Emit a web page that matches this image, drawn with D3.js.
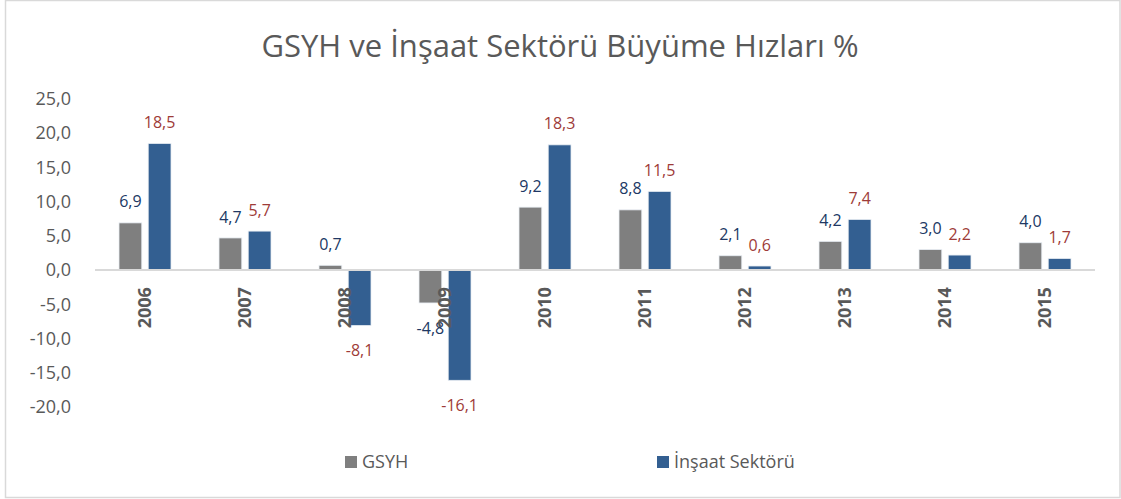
<!DOCTYPE html>
<html>
<head>
<meta charset="utf-8">
<script src="https://cdn.jsdelivr.net/npm/d3@7"></script>
<style>
  body { margin: 0; background: #fff; }
  text { font-family: "Open Sans", sans-serif; }
</style>
</head>
<body>
<div id="chart"></div>
<script>
// data
const years = ["2006", "2007", "2008", "2009", "2010", "2011", "2012", "2013", "2014", "2015"];
const gsyh = [6.9, 4.7, 0.7, -4.8, 9.2, 8.8, 2.1, 4.2, 3.0, 4.0];
const insaat = [18.5, 5.7, -8.1, -16.1, 18.3, 11.5, 0.6, 7.4, 2.2, 1.7];
const seriesNames = ["GSYH", "İnşaat Sektörü"];
const yTicks = [-20, -15, -10, -5, 0, 5, 10, 15, 20, 25];

const width = 1121, height = 499;
const margin = { top: 99, bottom: 92, left: 95, right: 26 };
const colors = ["#7f7f7f", "#335f91"];
const labelColors = ["#203864", "#9e3b38"];

const rows = years.map((y, i) => ({ year: y, values: [gsyh[i], insaat[i]] }));
const fmt = v => d3.format(".1f")(v).replace(".", ",").replace("−", "-");

const svg = d3.select("#chart").append("svg")
  .attr("width", width)
  .attr("height", height);

// border
svg.append("rect")
  .attr("x", 5.5).attr("y", 0.5)
  .attr("width", width - 6.5).attr("height", height - 2)
  .attr("fill", "#fff")
  .attr("stroke", "#d9d9d9")
  .attr("stroke-width", 1.5);

const x0 = d3.scaleBand()
  .domain(years)
  .range([margin.left, width - margin.right]);

const x1 = d3.scaleBand()
  .domain([0, 1])
  .range([24, 76])
  .paddingInner(0.22);

const y = d3.scaleLinear()
  .domain([-20, 25])
  .range([407, 99]);

// title
svg.append("text")
  .attr("x", 560)
  .attr("y", 57)
  .attr("text-anchor", "middle")
  .attr("font-size", "31px")
  .attr("fill", "#595959")
  .text("GSYH ve İnşaat Sektörü Büyüme Hızları %");

// y axis
svg.append("g")
  .attr("transform", `translate(${margin.left - 21},0)`)
  .call(d3.axisLeft(y).tickValues(yTicks).tickSize(0).tickFormat(fmt))
  .call(g => g.select(".domain").remove())
  .call(g => g.selectAll("text")
    .attr("font-size", "18px")
    .attr("fill", "#595959")
    .style("font-family", "'Open Sans', sans-serif"));

// bars
const groups = svg.selectAll("g.grp")
  .data(rows)
  .join("g")
  .attr("class", "grp")
  .attr("transform", d => `translate(${x0(d.year)},0)`);

groups.selectAll("rect")
  .data(d => d.values.map((v, k) => ({ v, k })))
  .join("rect")
  .attr("x", d => x1(d.k))
  .attr("width", x1.bandwidth())
  .attr("y", d => y(Math.max(0, d.v)))
  .attr("height", d => Math.abs(y(d.v) - y(0)))
  .attr("fill", d => colors[d.k])
  .attr("stroke", "#e8edf3")
  .attr("stroke-width", 0.8);

// zero line
svg.append("line")
  .attr("x1", margin.left).attr("x2", width - margin.right)
  .attr("y1", y(0)).attr("y2", y(0))
  .attr("stroke", "#d9d9d9")
  .attr("stroke-width", 2);

// value labels
groups.selectAll("text.val")
  .data(d => d.values.map((v, k) => ({ v, k })))
  .join("text")
  .attr("class", "val")
  .attr("x", d => x1(d.k) + x1.bandwidth() / 2)
  .attr("y", d => d.v >= 0 ? y(d.v) - 21 : y(d.v) + 25)
  .attr("dy", "0.35em")
  .attr("text-anchor", "middle")
  .attr("font-size", "16px")
  .attr("fill", d => labelColors[d.k])
  .text(d => fmt(d.v));

// year labels
svg.selectAll("text.year")
  .data(years)
  .join("text")
  .attr("class", "year")
  .attr("transform", d => `translate(${x0(d) + x0.bandwidth() / 2},${y(0) + 17}) rotate(-90)`)
  .attr("text-anchor", "end")
  .attr("dy", "0.35em")
  .attr("font-size", "18px")
  .attr("font-weight", "bold")
  .attr("fill", "#595959")
  .text(d => d);

// legend
const legendX = [345, 657];
const legend = svg.selectAll("g.leg")
  .data(seriesNames)
  .join("g")
  .attr("class", "leg")
  .attr("transform", (d, i) => `translate(${legendX[i]},462)`);

legend.append("rect")
  .attr("x", 0).attr("y", -6)
  .attr("width", 12).attr("height", 12)
  .attr("fill", (d, i) => colors[i]);

legend.append("text")
  .attr("x", 17)
  .attr("dy", "0.35em")
  .attr("font-size", "18px")
  .attr("fill", "#595959")
  .text(d => d);
</script>
</body>
</html>
